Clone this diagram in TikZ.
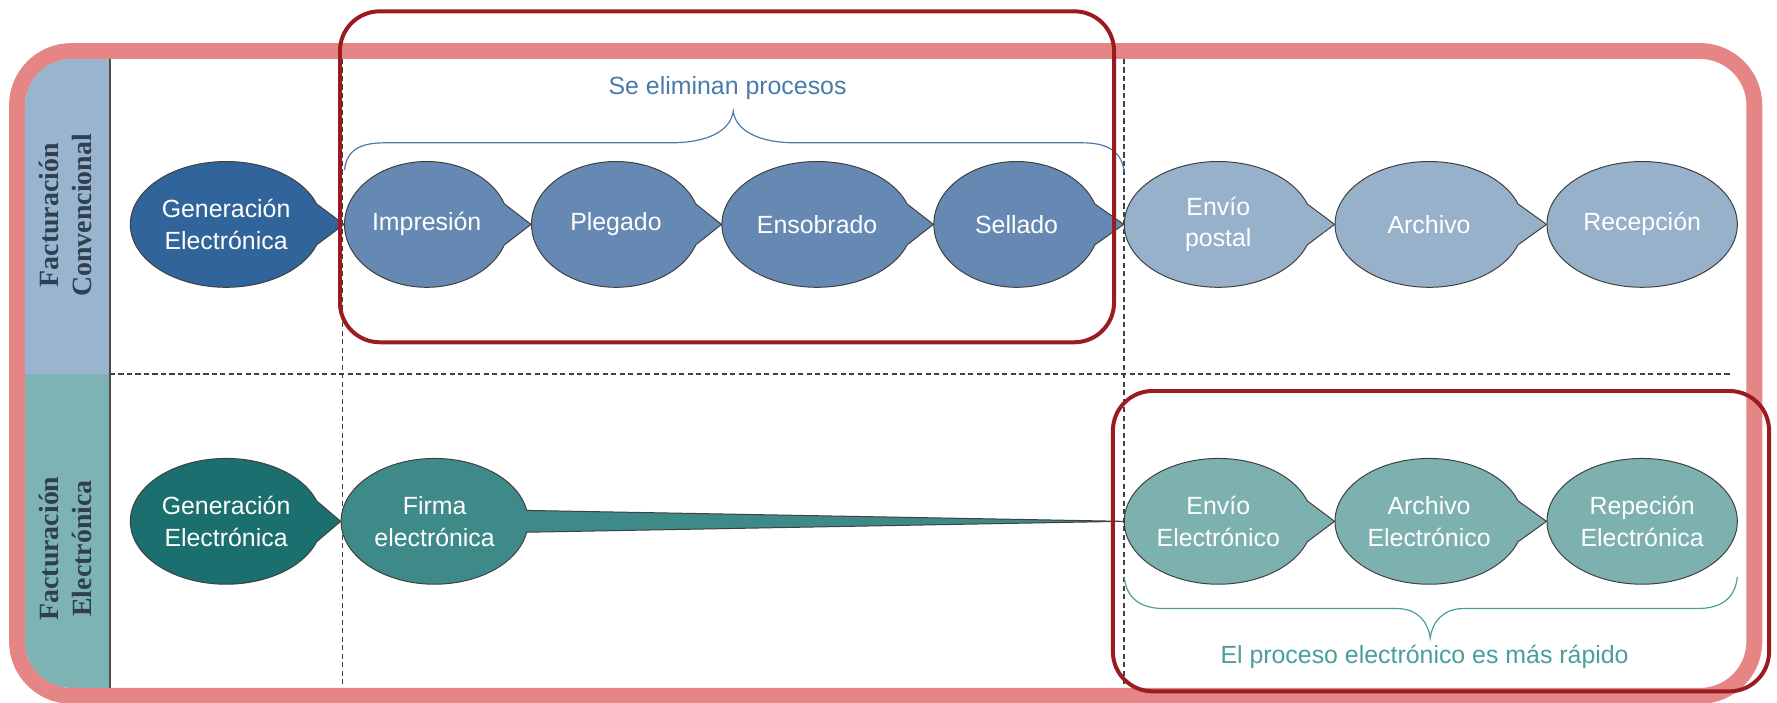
\documentclass[tikz,border=0pt]{standalone}
\usepackage{fontspec}
\setmainfont{Liberation Sans}
\newfontfamily\lanefont{Liberation Serif}
\usepackage{tikz}
\usetikzlibrary{shapes.callouts,shapes.geometric}
\usepackage{xcolor}
\definecolor{pinkframe}{HTML}{E58586}
\definecolor{boxred}{HTML}{9A1C20}
\definecolor{convhead}{HTML}{98B4CE}
\definecolor{elechead}{HTML}{7DB4B3}
\definecolor{lanetext}{HTML}{2F3F4F}
\definecolor{blueA}{HTML}{31649A}
\definecolor{blueB}{HTML}{6689B3}
\definecolor{blueC}{HTML}{97B1CB}
\definecolor{tealA}{HTML}{1B6F6F}
\definecolor{tealB}{HTML}{3E8A89}
\definecolor{tealC}{HTML}{7DB1B0}
\definecolor{braceblue}{HTML}{4A7BAA}
\definecolor{braceteal}{HTML}{4A9E9C}

\begin{document}
\begin{tikzpicture}[x=0.02cm,y=-0.02cm,
    paso/.style={ellipse callout,draw=black!75,line width=0.5pt,text=white,
      inner sep=0pt,minimum height=2.22cm,align=center,callout pointer arc=38,
      font=\fontsize{12.5}{15.9}\selectfont},
    carril/.style={text=lanetext,align=center,rotate=90,
      font=\lanefont\bfseries\fontsize{14}{16.5}\selectfont},
    guia/.style={black!75,line width=0.75pt,dash pattern=on 0.09cm off 0.06cm},
    llave/.style={line width=0.6pt},
    nota/.style={font=\fontsize{12.5}{15}\selectfont},
    marco/.style={boxred,line width=2pt,rounded corners=0.7cm}]
  \useasboundingbox (0,0) rectangle (1568,620);
  % frame and lanes
  \fill[white,rounded corners=0.96cm] (15,45) rectangle (1548,614);
  \begin{scope}
    \clip[rounded corners=0.82cm] (22,52) rectangle (1541,607);
    \fill[convhead] (22,52) rectangle (97,330);
    \fill[elechead] (22,330) rectangle (97,607);
  \end{scope}
  \draw[black!70,line width=0.8pt] (97,52) -- (97,607);
  \draw[pinkframe,line width=0.28cm,rounded corners=0.96cm] (15,45) rectangle (1548,614);
  \node[carril] (conv) at (58,190) {Facturación\\Convencional};
  \node[carril] (elec) at (58,484) {Facturación\\Electrónica};
  \draw[guia] (97,330) -- (1528,330);
  \foreach \x in {302,992}
    \draw[guia] (\x,52) -- (\x,604);
  % braces
  \draw[llave,braceblue] (304,150) .. controls (306,132) and (318,126) .. (340,126) -- (592,126)
      .. controls (625,126) and (645,115) .. (647,98)
      .. controls (649,115) and (669,126) .. (702,126) -- (955,126)
      .. controls (978,126) and (990,134) .. (992,152);
  \draw[llave,braceteal] (992,509) .. controls (994,528) and (1006,537) .. (1028,537) -- (1233,537)
      .. controls (1250,537) and (1260,548) .. (1262,563)
      .. controls (1264,548) and (1274,537) .. (1291,537) -- (1497,537)
      .. controls (1519,537) and (1531,528) .. (1533,509);
  \node[nota,text=braceblue] (quita) at (642,78) {Se eliminan procesos};
  \node[nota,text=braceteal] (rapido) at (1257,580) {El proceso electrónico es más rápido};
  % conventional row
  \node[paso,ellipse,fill=blueC,minimum width=3.36cm] (rec) at (1449,198) {Recepción};
  \node[paso,fill=blueC,minimum width=3.32cm,callout absolute pointer={(rec.west)}] (arch) at (1261,198) {Archivo};
  \node[paso,fill=blueC,minimum width=3.32cm,callout absolute pointer={(arch.west)}] (post) at (1075,198) {Envío\\postal};
  \node[paso,fill=blueB,minimum width=2.92cm,callout absolute pointer={(post.west)}] (sell) at (897,198) {Sellado};
  \node[paso,fill=blueB,minimum width=3.36cm,callout absolute pointer={(sell.west)}] (enso) at (721,198) {Ensobrado};
  \node[paso,fill=blueB,minimum width=2.98cm,callout absolute pointer={(enso.west)}] (pleg) at (543.5,198) {Plegado};
  \node[paso,fill=blueB,minimum width=2.9cm,callout absolute pointer={(pleg.west)}] (impr) at (376.5,198) {Impresión};
  \node[paso,fill=blueA,minimum width=3.38cm,callout absolute pointer={(impr.west)}] (genc) at (199.5,198) {Generación\\Electrónica};
  % electronic row
  \node[paso,ellipse,fill=tealC,minimum width=3.36cm] (repe) at (1449,460) {Repeción\\Electrónica};
  \node[paso,fill=tealC,minimum width=3.32cm,callout absolute pointer={(repe.west)}] (arce) at (1261,460) {Archivo\\Electrónico};
  \node[paso,fill=tealC,minimum width=3.32cm,callout absolute pointer={(arce.west)}] (enve) at (1075,460) {Envío\\Electrónico};
  \node[paso,fill=tealB,minimum width=3.3cm,callout pointer arc=20,callout absolute pointer={(enve.west)}] (firm) at (383.5,460) {Firma\\electrónica};
  \node[paso,fill=tealA,minimum width=3.38cm,callout absolute pointer={(firm.west)}] (gene) at (199.5,460) {Generación\\Electrónica};
  % highlighted groups
  \draw[marco] (300,10) rectangle (983,302);
  \draw[marco] (982,345) rectangle (1561,610);
\end{tikzpicture}
\end{document}
